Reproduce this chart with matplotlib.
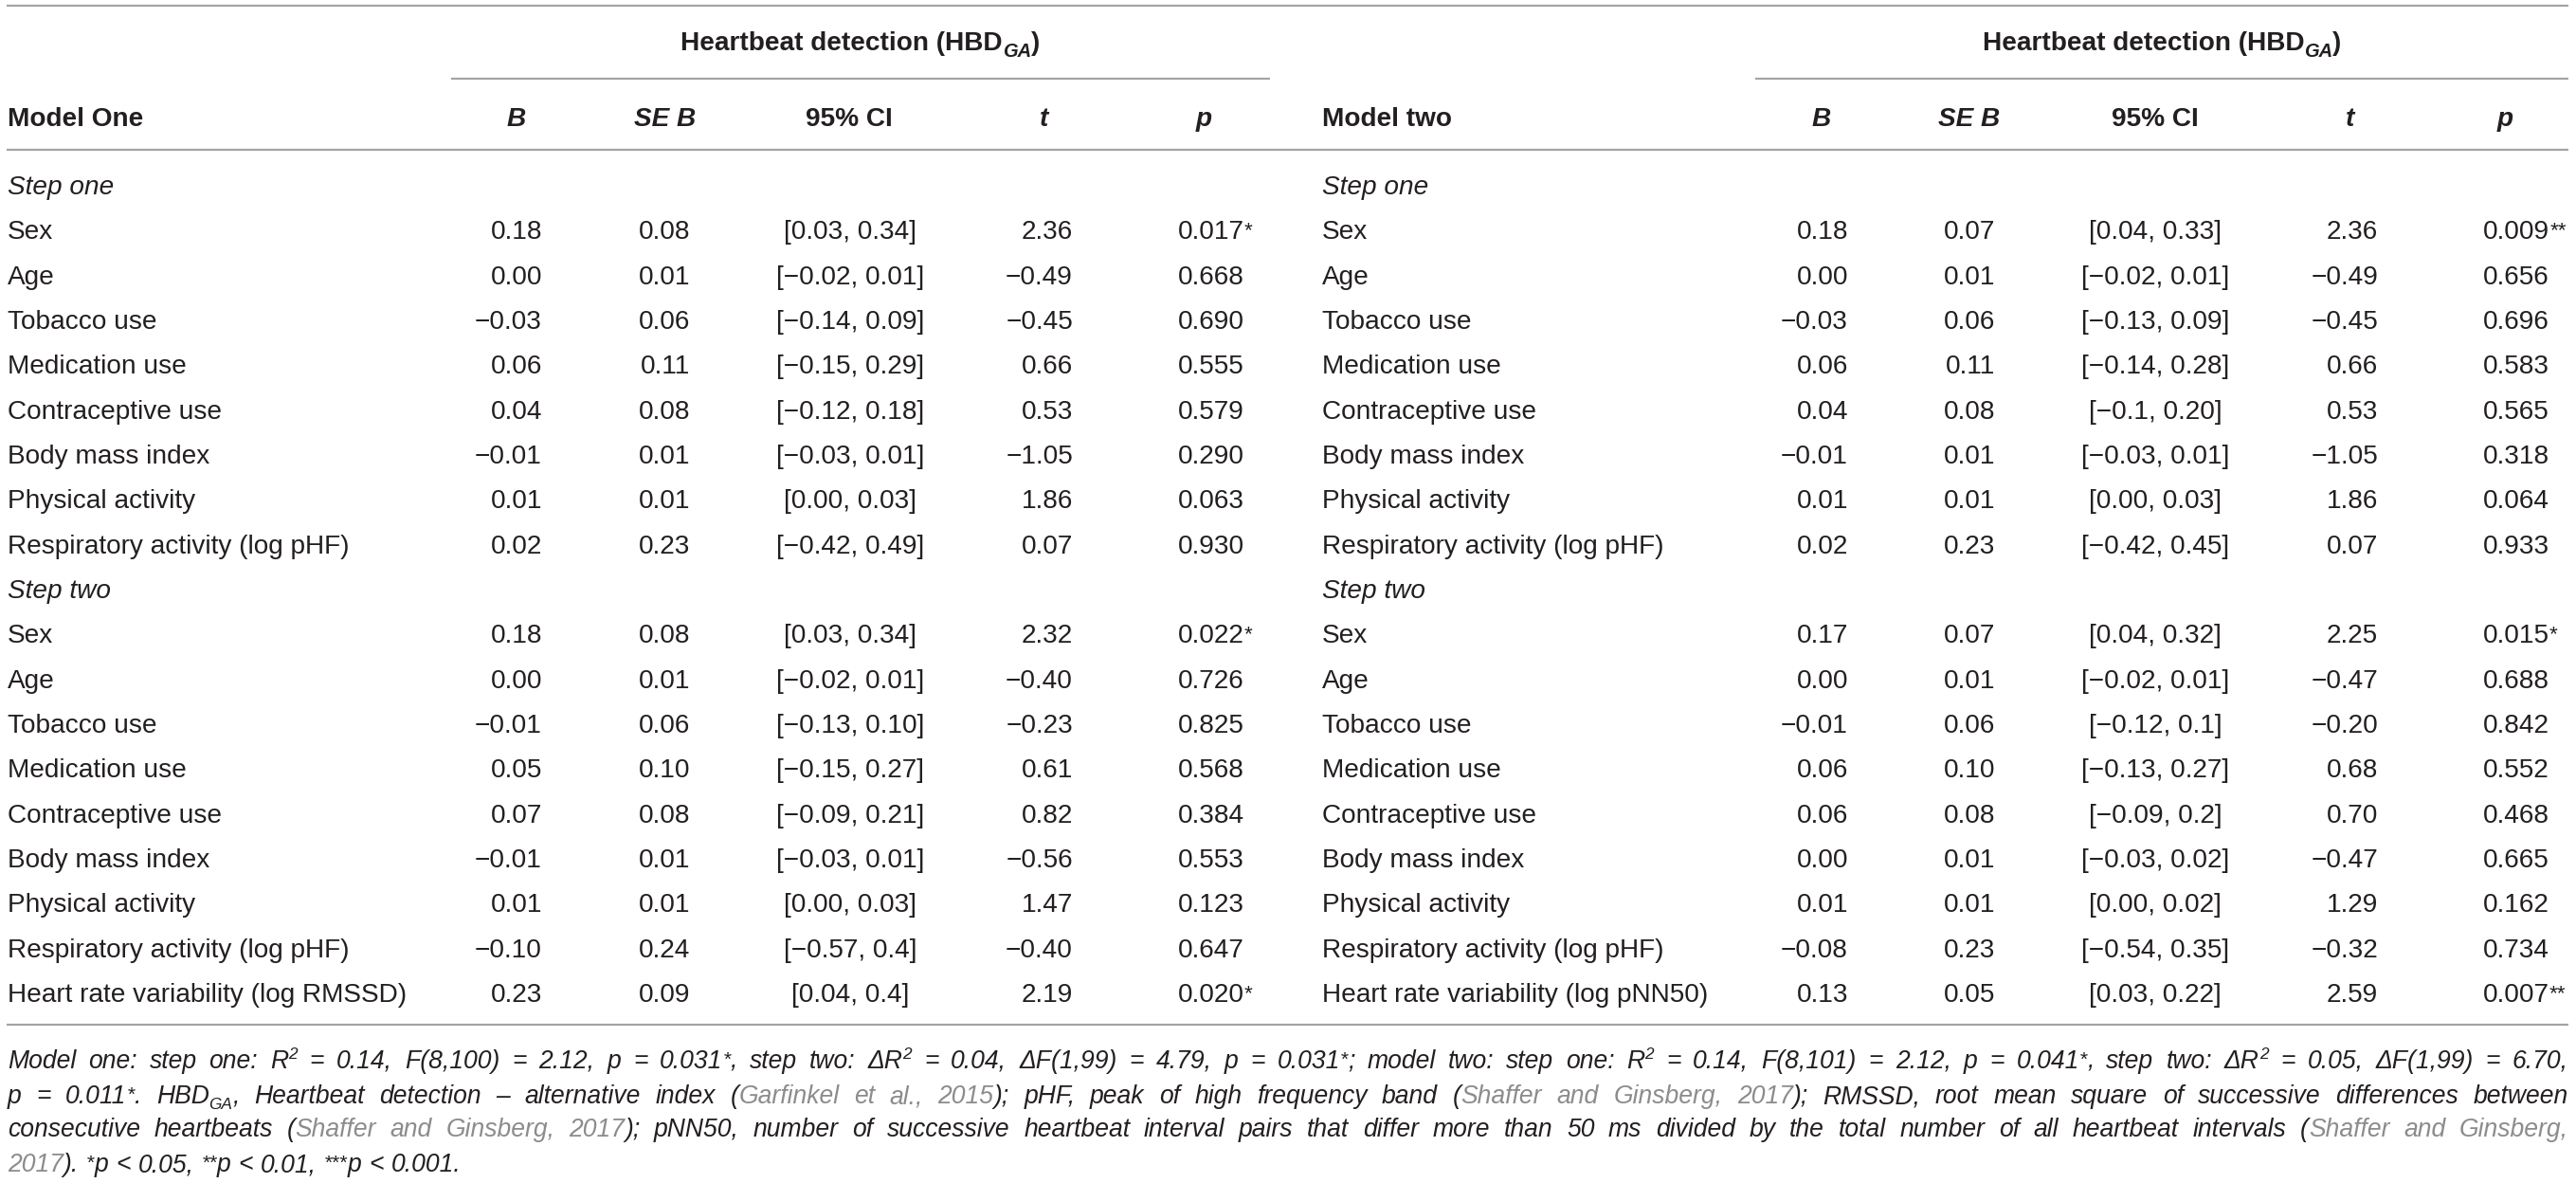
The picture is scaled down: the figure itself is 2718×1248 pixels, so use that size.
import matplotlib
matplotlib.use("Agg")
import matplotlib.pyplot as plt

plt.rcParams['font.family'] = ['Liberation Sans', 'DejaVu Sans']

# ---- table content ----
group_title = "Heartbeat detection (HBD"
group_sub = "GA"
model_titles = ["Model One", "Model two"]
col_heads = ["B", "SE B", "95% CI", "t", "p"]
step_titles = ["Step one", "Step two"]

step_vars = ["Sex", "Age", "Tobacco use", "Medication use", "Contraceptive use",
             "Body mass index", "Physical activity", "Respiratory activity (log pHF)"]
extra_var = ["Heart rate variability (log RMSSD)", "Heart rate variability (log pNN50)"]

# model one (8 rows step one, 9 rows step two)
m1_b = ["0.18", "0.00", "\u22120.03", "0.06", "0.04", "\u22120.01", "0.01", "0.02",
        "0.18", "0.00", "\u22120.01", "0.05", "0.07", "\u22120.01", "0.01", "\u22120.10", "0.23"]
m1_se = ["0.08", "0.01", "0.06", "0.11", "0.08", "0.01", "0.01", "0.23",
         "0.08", "0.01", "0.06", "0.10", "0.08", "0.01", "0.01", "0.24", "0.09"]
m1_ci = ["[0.03, 0.34]", "[\u22120.02, 0.01]", "[\u22120.14, 0.09]", "[\u22120.15, 0.29]",
         "[\u22120.12, 0.18]", "[\u22120.03, 0.01]", "[0.00, 0.03]", "[\u22120.42, 0.49]",
         "[0.03, 0.34]", "[\u22120.02, 0.01]", "[\u22120.13, 0.10]", "[\u22120.15, 0.27]",
         "[\u22120.09, 0.21]", "[\u22120.03, 0.01]", "[0.00, 0.03]", "[\u22120.57, 0.4]", "[0.04, 0.4]"]
m1_t = ["2.36", "\u22120.49", "\u22120.45", "0.66", "0.53", "\u22121.05", "1.86", "0.07",
        "2.32", "\u22120.40", "\u22120.23", "0.61", "0.82", "\u22120.56", "1.47", "\u22120.40", "2.19"]
m1_p = ["0.017*", "0.668", "0.690", "0.555", "0.579", "0.290", "0.063", "0.930",
        "0.022*", "0.726", "0.825", "0.568", "0.384", "0.553", "0.123", "0.647", "0.020*"]

# model two
m2_b = ["0.18", "0.00", "\u22120.03", "0.06", "0.04", "\u22120.01", "0.01", "0.02",
        "0.17", "0.00", "\u22120.01", "0.06", "0.06", "0.00", "0.01", "\u22120.08", "0.13"]
m2_se = ["0.07", "0.01", "0.06", "0.11", "0.08", "0.01", "0.01", "0.23",
         "0.07", "0.01", "0.06", "0.10", "0.08", "0.01", "0.01", "0.23", "0.05"]
m2_ci = ["[0.04, 0.33]", "[\u22120.02, 0.01]", "[\u22120.13, 0.09]", "[\u22120.14, 0.28]",
         "[\u22120.1, 0.20]", "[\u22120.03, 0.01]", "[0.00, 0.03]", "[\u22120.42, 0.45]",
         "[0.04, 0.32]", "[\u22120.02, 0.01]", "[\u22120.12, 0.1]", "[\u22120.13, 0.27]",
         "[\u22120.09, 0.2]", "[\u22120.03, 0.02]", "[0.00, 0.02]", "[\u22120.54, 0.35]", "[0.03, 0.22]"]
m2_t = ["2.36", "\u22120.49", "\u22120.45", "0.66", "0.53", "\u22121.05", "1.86", "0.07",
        "2.25", "\u22120.47", "\u22120.20", "0.68", "0.70", "\u22120.47", "1.29", "\u22120.32", "2.59"]
m2_p = ["0.009**", "0.656", "0.696", "0.583", "0.565", "0.318", "0.064", "0.933",
        "0.015*", "0.688", "0.842", "0.552", "0.468", "0.665", "0.162", "0.734", "0.007**"]

# footnote (^{..} superscript, _{..} subscript, § toggles grey citation colour)
note_lines = [
    "Model one: step one: R^{2} = 0.14, F(8,100) = 2.12, p = 0.031^{*}, step two: \u0394R^{2} = 0.04, "
    "\u0394F(1,99) = 4.79, p = 0.031^{*}; model two: step one: R^{2} = 0.14, F(8,101) = 2.12, p = 0.041^{*}, "
    "step two: \u0394R^{2} = 0.05, \u0394F(1,99) = 6.70,",
    "p = 0.011^{*}. HBD_{GA}, Heartbeat detection \u2013 alternative index (§Garfinkel et al., 2015§); "
    "pHF, peak of high frequency band (§Shaffer and Ginsberg, 2017§); RMSSD, root mean square of "
    "successive differences between",
    "consecutive heartbeats (§Shaffer and Ginsberg, 2017§); pNN50, number of successive heartbeat "
    "interval pairs that differ more than 50 ms divided by the total number of all heartbeat "
    "intervals (§Shaffer and Ginsberg,§",
    "§2017§). ^{*}p < 0.05, ^{**}p < 0.01, ^{***}p < 0.001.",
]

# ---- drawing ----
W, H = 2718, 1248
PT = 72 / 100          # points per pixel at dpi 100
INK = '#231f20'
CITE = '#8c8c8c'
RULE = '#a4a4a4'
BODY_PX = 28
NOTE_PX = 26.5

fig = plt.figure(figsize=(W / 100, H / 100), dpi=100)
ax = fig.add_axes([0, 0, 1, 1])
ax.set_xlim(0, W)
ax.set_ylim(H, 0)
ax.axis('off')
renderer = fig.canvas.get_renderer()


def build(pieces, y):
    """pieces: list of (text, px, weight, style, color, dy) -> list of (Text, width)"""
    out = []
    for s, px, weight, style, color, dy in pieces:
        t = ax.text(0, y + dy, s, fontsize=px * PT, fontweight=weight, fontstyle=style,
                    color=color, ha='left', va='baseline')
        out.append((t, t.get_window_extent(renderer).width))
    return out


def lay(objs, x, ha='left'):
    total = sum(w for _, w in objs)
    if ha == 'right':
        x -= total
    elif ha == 'center':
        x -= total / 2
    for t, w in objs:
        t.set_x(x)
        x += w
    return total


def value_pieces(s):
    base = s.rstrip('*')
    pcs = [(base, BODY_PX, 'normal', 'normal', INK, 0)]
    if len(base) < len(s):
        pcs.append((s[len(base):], BODY_PX * 0.8, 'normal', 'normal', INK, -3))
    return pcs


def rule(x0, x1, y):
    ax.plot([x0, x1], [y, y], color=RULE, lw=2.2 * PT, solid_capstyle='butt')


# horizontal rules
rule(7, 2710, 6)
rule(476, 1340, 83)
rule(1852, 2710, 83)
rule(7, 2710, 158)
rule(7, 2710, 1081)

ROW0, ROWH = 195, 47.33
BASE = 10  # baseline offset below row centre

tables = [
    dict(label_x=8, head_x=[545, 702, 896, 1102, 1270], group_x=908,
         b_r=572, se_r=728, ci_c=897, t_r=1132, p_l=1243,
         cols=(m1_b, m1_se, m1_ci, m1_t, m1_p), extra=extra_var[0]),
    dict(label_x=1395, head_x=[1922, 2078, 2274, 2480, 2643], group_x=2281,
         b_r=1950, se_r=2105, ci_c=2274, t_r=2509, p_l=2620,
         cols=(m2_b, m2_se, m2_ci, m2_t, m2_p), extra=extra_var[1]),
]

for k, tb in enumerate(tables):
    # group header with subscript
    g = build([(group_title, BODY_PX, 'bold', 'normal', INK, 0),
               (group_sub, BODY_PX * 0.72, 'bold', 'italic', INK, 7),
               (")", BODY_PX, 'bold', 'normal', INK, 0)], 43 + BASE)
    lay(g, tb['group_x'], 'center')

    # column headers
    lay(build([(model_titles[k], BODY_PX, 'bold', 'normal', INK, 0)], 123 + BASE), tb['label_x'])
    for name, hx in zip(col_heads, tb['head_x']):
        style = 'normal' if name == "95% CI" else 'italic'
        lay(build([(name, BODY_PX, 'bold', style, INK, 0)], 123 + BASE), hx, 'center')

    labels = [step_titles[0]] + step_vars + [step_titles[1]] + step_vars + [tb['extra']]
    b, se, ci, tv, pv = tb['cols']
    vi = 0
    for i, lab in enumerate(labels):
        y = ROW0 + i * ROWH + BASE
        style = 'italic' if lab in step_titles else 'normal'
        lay(build([(lab, BODY_PX, 'normal', style, INK, 0)], y), tb['label_x'])
        if lab in step_titles:
            continue
        lay(build(value_pieces(b[vi]), y), tb['b_r'], 'right')
        lay(build(value_pieces(se[vi]), y), tb['se_r'], 'right')
        lay(build(value_pieces(ci[vi]), y), tb['ci_c'], 'center')
        lay(build(value_pieces(tv[vi]), y), tb['t_r'], 'right')
        lay(build(value_pieces(pv[vi]), y), tb['p_l'], 'left')
        vi += 1


def parse_note(line):
    words, word, buf = [], [], ''
    grey = False
    i = 0
    while i < len(line):
        c = line[i]
        if c in '^_' and i + 1 < len(line) and line[i + 1] == '{':
            j = line.index('}', i)
            if buf:
                word.append((buf, grey, None))
                buf = ''
            word.append((line[i + 2:j], grey, c))
            i = j + 1
            continue
        if c == '§':
            if buf:
                word.append((buf, grey, None))
                buf = ''
            grey = not grey
        elif c == ' ':
            if buf:
                word.append((buf, grey, None))
                buf = ''
            if word:
                words.append(word)
                word = []
        else:
            buf += c
        i += 1
    if buf:
        word.append((buf, grey, None))
    if word:
        words.append(word)
    return words


NOTE_L, NOTE_R = 8, 2710
note_y = [1118, 1155, 1190, 1227]
space = 0.30 * NOTE_PX
for li, line in enumerate(note_lines):
    y = note_y[li] + 9
    placed = []
    for word in parse_note(line):
        pcs = []
        for s, grey, kind in word:
            px = NOTE_PX * 0.65 if kind else NOTE_PX
            dy = -0.38 * NOTE_PX if kind == '^' else (0.22 * NOTE_PX if kind == '_' else 0)
            if kind == '^' and '*' in s:
                px, dy = NOTE_PX * 0.8, -3
            pcs.append((s, px, 'normal', 'italic', CITE if grey else INK, dy))
        objs = build(pcs, y)
        placed.append((objs, sum(w for _, w in objs)))
    total = sum(w for _, w in placed)
    last = li == len(note_lines) - 1
    gap = space if last else (NOTE_R - NOTE_L - total) / (len(placed) - 1)
    x = NOTE_L
    for objs, w in placed:
        lay(objs, x)
        x += w + gap

fig.savefig("out.png", dpi=100, facecolor='white')
